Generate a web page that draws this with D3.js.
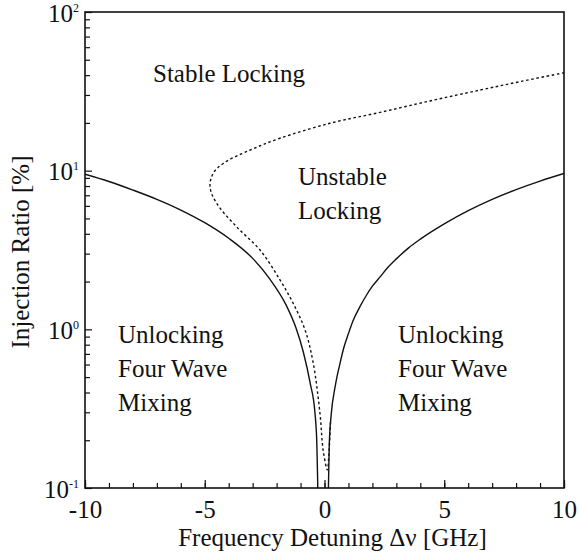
<!DOCTYPE html>
<html>
<head>
<meta charset="utf-8">
<script src="https://cdn.jsdelivr.net/npm/d3@7/dist/d3.min.js"></script>
<style>
  html, body { margin: 0; padding: 0; background: #fff; }
  svg { display: block; }
  text { font-family: "Liberation Serif", "Times New Roman", serif; fill: #111; }
</style>
</head>
<body>
<svg id="chart" width="580" height="554"></svg>
<script>
// Locking map boundaries: injection ratio [%] versus frequency detuning [GHz]

// Locking boundary, negative-detuning branch (solid)
const leftDetuning = [-10, -9, -8, -7, -6, -5, -4, -3, -2.28, -1.6, -1.2, -0.885, -0.6, -0.397, -0.32, -0.286, -0.275];
const leftRatio    = [9.5, 8.55, 7.55, 6.6, 5.65, 4.7, 3.75, 2.8, 2.07, 1.42, 1.03, 0.72, 0.46, 0.296, 0.19, 0.112, 0.09];

// Locking boundary, positive-detuning branch (solid)
const rightDetuning = [0.155, 0.17, 0.2, 0.28, 0.45, 0.647, 0.8, 1.0, 1.2, 1.48, 1.75, 2.0, 2.32, 2.65, 3, 3.5, 4, 5, 6, 7, 8, 9, 10];
const rightRatio    = [0.09, 0.112, 0.19, 0.29, 0.44, 0.61, 0.76, 0.94, 1.14, 1.39, 1.64, 1.87, 2.14, 2.46, 2.78, 3.25, 3.7, 4.62, 5.6, 6.6, 7.6, 8.6, 9.6];

// Stability boundary between stable and unstable locking (dotted)
const unstableDetuning = [0.25, 0.18, 0.12, -0.05, -0.19, -0.468, -0.81, -1.3, -1.86, -2.69, -3.67, -4.5, -4.78, -4.65, -4.23, -3.1, -1.86, 0.23, 2.32, 4.4, 6.49, 8.2, 10];
const unstableRatio    = [0.26, 0.16, 0.13, 0.17, 0.296, 0.61, 0.99, 1.45, 2.05, 3.16, 4.43, 6.22, 7.9, 9.6, 11.1, 13.5, 16.0, 19.9, 23.3, 27.5, 32.2, 36.5, 41.4];

// Axis ticks
const xMajorTicks = [-10, -5, 0, 5, 10];
const xTickLabels = ["-10", "-5", "0", "5", "10"];
const xMinorTicks = d3.range(-10, 11, 1);
const yDecades = [0.1, 1, 10, 100];
const yExponents = ["-1", "0", "1", "2"];
const yMinorTicks = [0.2, 0.3, 0.4, 0.5, 0.6, 0.7, 0.8, 0.9, 2, 3, 4, 5, 6, 7, 8, 9, 20, 30, 40, 50, 60, 70, 80, 90];

// Region names
const regionNames = [
  { lines: ["Stable Locking"], at: [-7.16, 36.2] },
  { lines: ["Unstable", "Locking"], at: [-1.11, 8.12] },
  { lines: ["Unlocking", "Four Wave", "Mixing"], at: [-8.62, 0.82] },
  { lines: ["Unlocking", "Four Wave", "Mixing"], at: [3.07, 0.82] }
];

const margin = { left: 85, top: 12, right: 16, bottom: 66 };
const W = 580, H = 554;
const plotW = W - margin.left - margin.right;
const plotH = H - margin.top - margin.bottom;

const svg = d3.select("#chart");

const x = d3.scaleLinear().domain([-10, 10]).range([margin.left, margin.left + plotW]);
const y = d3.scaleLog().domain([0.1, 100]).range([margin.top + plotH, margin.top]);

svg.append("defs").append("clipPath").attr("id", "plot-clip")
  .append("rect")
  .attr("x", margin.left).attr("y", margin.top)
  .attr("width", plotW).attr("height", plotH);

const zip = (a, b) => a.map((v, i) => [v, b[i]]);
// Solid branches are monotone in detuning; the dotted boundary folds back
const branchLine = d3.line()
  .x(d => x(d[0]))
  .y(d => y(d[1]))
  .curve(d3.curveMonotoneX);
const foldLine = d3.line()
  .x(d => x(d[0]))
  .y(d => y(d[1]))
  .curve(d3.curveCatmullRom.alpha(0.5));

const curves = svg.append("g").attr("clip-path", "url(#plot-clip)");

curves.append("path")
  .attr("d", branchLine(zip(leftDetuning, leftRatio)))
  .attr("fill", "none").attr("stroke", "#111").attr("stroke-width", 1.4);

curves.append("path")
  .attr("d", branchLine(zip(rightDetuning, rightRatio)))
  .attr("fill", "none").attr("stroke", "#111").attr("stroke-width", 1.4);

curves.append("path")
  .attr("d", foldLine(zip(unstableDetuning, unstableRatio)))
  .attr("fill", "none").attr("stroke", "#111").attr("stroke-width", 1.4)
  .attr("stroke-dasharray", "2.6,2.6");

// Bottom axis: minor and major ticks point inward
svg.append("g")
  .attr("transform", `translate(0,${margin.top + plotH})`)
  .call(d3.axisBottom(x).tickValues(xMinorTicks).tickSizeInner(-5).tickSizeOuter(0).tickFormat(() => ""))
  .call(g => g.select(".domain").remove())
  .call(g => g.selectAll("line").attr("stroke", "#111").attr("stroke-width", 1.2));

const xAxis = svg.append("g")
  .attr("transform", `translate(0,${margin.top + plotH})`)
  .call(d3.axisBottom(x).tickValues(xMajorTicks).tickSizeInner(-8).tickSizeOuter(0)
    .tickFormat((d, i) => xTickLabels[i]))
  .call(g => g.select(".domain").remove())
  .call(g => g.selectAll("line").attr("stroke", "#111").attr("stroke-width", 1.2));
xAxis.selectAll("text")
  .attr("y", 30).attr("dy", null)
  .attr("font-size", 25)
  .style("font-family", "'Liberation Serif', serif")
  .attr("fill", "#111");

// Left axis: log minor ticks and decade labels
svg.append("g")
  .attr("transform", `translate(${margin.left},0)`)
  .call(d3.axisLeft(y).tickValues(yMinorTicks).tickSizeInner(-5).tickSizeOuter(0).tickFormat(() => ""))
  .call(g => g.select(".domain").remove())
  .call(g => g.selectAll("line").attr("stroke", "#111").attr("stroke-width", 1.2));

const yAxis = svg.append("g")
  .attr("transform", `translate(${margin.left},0)`)
  .call(d3.axisLeft(y).tickValues(yDecades).tickSizeInner(-7).tickSizeOuter(0).tickFormat(() => ""))
  .call(g => g.select(".domain").remove())
  .call(g => g.selectAll("line").attr("stroke", "#111").attr("stroke-width", 1.2));

yAxis.selectAll(".tick").each(function (d, i) {
  const t = d3.select(this).select("text")
    .attr("x", -6).attr("y", 9).attr("dy", null)
    .attr("text-anchor", "end")
    .attr("font-size", 25)
    .style("font-family", "'Liberation Serif', serif")
    .attr("fill", "#111");
  t.text(null);
  t.append("tspan").text("10");
  t.append("tspan").attr("dy", -10).attr("font-size", 12).text(yExponents[i]);
});

// Frame
svg.append("rect")
  .attr("x", margin.left).attr("y", margin.top)
  .attr("width", plotW).attr("height", plotH)
  .attr("fill", "none").attr("stroke", "#111").attr("stroke-width", 1.6);

// Axis titles
svg.append("text")
  .attr("x", margin.left + plotW / 2 + 8).attr("y", 546)
  .attr("text-anchor", "middle").attr("font-size", 25)
  .text("Frequency Detuning Δν [GHz]");

svg.append("text")
  .attr("transform", `translate(29,${margin.top + plotH / 2 + 2}) rotate(-90)`)
  .attr("text-anchor", "middle").attr("font-size", 25)
  .text("Injection Ratio [%]");

// Region names
const lineGap = 34;
regionNames.forEach(r => {
  const t = svg.append("text")
    .attr("x", x(r.at[0])).attr("y", y(r.at[1]))
    .attr("font-size", 25);
  r.lines.forEach((s, i) => {
    t.append("tspan").attr("x", x(r.at[0])).attr("dy", i === 0 ? 0 : lineGap).text(s);
  });
});
</script>
</body>
</html>
